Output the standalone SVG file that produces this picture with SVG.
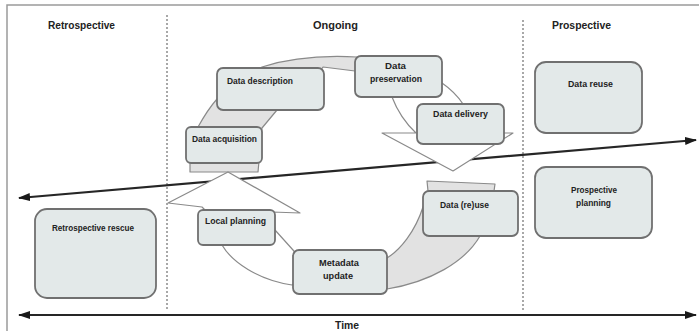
<svg xmlns="http://www.w3.org/2000/svg" width="699" height="331" viewBox="0 0 699 331">
<defs>
<style>
.frame{stroke:#9a9a9a;stroke-width:1.5;fill:none}
.div{stroke:#7a7a7a;stroke-width:1.3;stroke-dasharray:2,2;fill:none}
.axis{stroke:#262626;stroke-width:2.2;fill:none}
.band{fill:#e2e2e2;stroke:#8a8a8a;stroke-width:1.2;stroke-linejoin:round}
.shaft{fill:#ffffff;stroke:#8a8a8a;stroke-width:1.2;stroke-linejoin:round}
.box{fill:#e3e9e9;stroke:#707070;stroke-width:1.8}
.t{font-family:"Liberation Sans",Arial,sans-serif;font-weight:bold;font-size:9px;fill:#222}
.h{font-family:"Liberation Sans",Arial,sans-serif;font-weight:bold;font-size:11.5px;fill:#222}
</style>
<marker id="ah" viewBox="0 0 12 8" refX="11" refY="4" markerWidth="12" markerHeight="8" markerUnits="userSpaceOnUse" orient="auto-start-reverse">
<path d="M0,0 L12,4 L0,8 z" fill="#1a1a1a"/>
</marker>
</defs>

<rect x="0" y="0" width="699" height="331" fill="#ffffff"/>
<g id="frame">
<path class="frame" d="M7,331 L7,5 L699,5"/>
<path class="div" d="M167,15 L167,310"/>
<path class="div" d="M523,20 L523,311"/>
</g>

<g id="headers">
<text class="h" x="48" y="29" textLength="67" lengthAdjust="spacingAndGlyphs">Retrospective</text>
<text class="h" x="313" y="29" textLength="45" lengthAdjust="spacingAndGlyphs">Ongoing</text>
<text class="h" x="552" y="29" textLength="59" lengthAdjust="spacingAndGlyphs">Prospective</text>
</g>

<g id="connectors">
<path id="trend-arrow" class="axis" d="M19,198 L696,140" marker-start="url(#ah)" marker-end="url(#ah)"/>
<path id="time-axis" class="axis" d="M19,315 L696,315" marker-start="url(#ah)" marker-end="url(#ah)"/>
</g>

<g id="cycle-ring">
<path class="band" d="M190,172 L190,140 L198,127 C203,118 209,108 217,99 L262,67 C290,58 320,55 357,57 L420,62 L410,92 L392,92 L355,71 L323,67 L300,100 L277,110 L262,128 L258,172 Z"/>
<path class="shaft" d="M392,90 L392,97 Q400,118 416,133 L382,133 L453,171 L513,133 L480,133 L463,104 Q455,92 442,83 L430,85 Z"/>
<path class="shaft" d="M168,203 L228,172 L300,213 L272,212 L275,230 L293,250 L310,270 L292,285 C258,280 232,262 222,245 L210,215 L202,207 Z"/>
<path class="band" d="M428,191 L427,181 L495,184 L494,191 L490,220 L480,236 C465,262 430,282 387,289 L380,275 L387,258 C400,250 415,232 423,207 L430,200 Z"/>
</g>

<g id="retrospective-rescue">
<rect class="box" x="35" y="209" width="121" height="89" rx="12"/>
<text class="t" x="52" y="231" textLength="82" lengthAdjust="spacingAndGlyphs">Retrospective rescue</text>
</g>
<g id="data-reuse">
<rect class="box" x="535" y="62" width="107" height="71" rx="11"/>
<text class="t" x="568" y="87" textLength="45" lengthAdjust="spacingAndGlyphs">Data reuse</text>
</g>
<g id="prospective-planning">
<rect class="box" x="535" y="167" width="117" height="71" rx="11"/>
<text class="t" x="571" y="193" textLength="46" lengthAdjust="spacingAndGlyphs">Prospective</text>
<text class="t" x="576" y="206" textLength="35" lengthAdjust="spacingAndGlyphs">planning</text>
</g>
<g id="data-description">
<rect class="box" x="217" y="68" width="107" height="42" rx="6"/>
<text class="t" x="227" y="84" textLength="66" lengthAdjust="spacingAndGlyphs">Data description</text>
</g>
<g id="data-acquisition">
<rect class="box" x="186" y="127" width="76" height="36" rx="5"/>
<text class="t" x="192" y="142" textLength="65" lengthAdjust="spacingAndGlyphs">Data acquisition</text>
</g>
<g id="data-preservation">
<rect class="box" x="355" y="56" width="87" height="41" rx="6"/>
<text class="t" x="385" y="69" textLength="21" lengthAdjust="spacingAndGlyphs">Data</text>
<text class="t" x="370" y="82" textLength="52" lengthAdjust="spacingAndGlyphs">preservation</text>
</g>
<g id="data-delivery">
<rect class="box" x="417" y="104" width="87" height="40" rx="6"/>
<text class="t" x="433" y="117" textLength="55" lengthAdjust="spacingAndGlyphs">Data delivery</text>
</g>
<g id="local-planning">
<rect class="box" x="198" y="210" width="77" height="35" rx="5"/>
<text class="t" x="205" y="224" textLength="61" lengthAdjust="spacingAndGlyphs">Local planning</text>
</g>
<g id="metadata-update">
<rect class="box" x="293" y="250" width="94" height="44" rx="6"/>
<text class="t" x="319" y="266" textLength="40" lengthAdjust="spacingAndGlyphs">Metadata</text>
<text class="t" x="323" y="279" textLength="30" lengthAdjust="spacingAndGlyphs">update</text>
</g>
<g id="data-reuse-cycle">
<rect class="box" x="423" y="191" width="95" height="45" rx="6"/>
<text class="t" x="440" y="208" textLength="49" lengthAdjust="spacingAndGlyphs">Data (re)use</text>
</g>

<g id="time-label">
<text class="h" x="335" y="329" textLength="24" lengthAdjust="spacingAndGlyphs">Time</text>
</g>
</svg>
